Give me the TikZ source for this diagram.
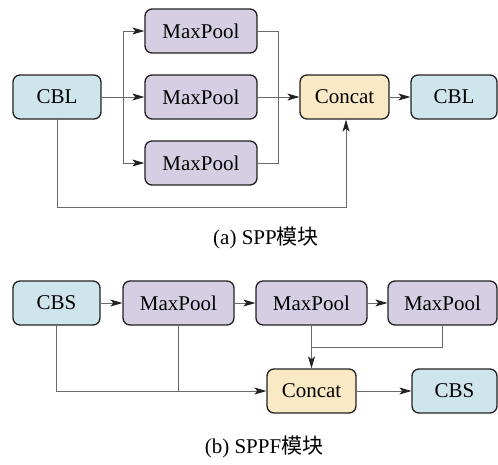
\documentclass[tikz,border=0pt]{standalone}
\usepackage{fontspec}
\setmainfont{Liberation Serif}
\newfontfamily\cjk{Noto Sans CJK SC}
\usetikzlibrary{arrows.meta}

\definecolor{cblue}{HTML}{CFE5EC}
\definecolor{cpool}{HTML}{D6CFE3}
\definecolor{ccat}{HTML}{F9E9C4}
\definecolor{edge}{HTML}{222222}
\definecolor{wire}{HTML}{6A6A6A}

\tikzset{
  block/.style={draw=edge, line width=1.3pt, rounded corners=7pt,
    minimum height=44pt, inner sep=0pt, font=\fontsize{21}{25}\selectfont},
  convbox/.style={block, fill=cblue},
  poolbox/.style={block, fill=cpool, minimum width=111pt},
  catbox/.style={block, fill=ccat, minimum width=89pt},
  wireline/.style={draw=wire, line width=0.8pt},
  flow/.style={wireline, -{Stealth[length=12pt,width=7pt,inset=3pt,color=edge]}},
  caption/.style={font=\fontsize{21}{25}\selectfont, inner sep=0pt}
}

\begin{document}
\begin{tikzpicture}[x=1pt,y=-1pt]
\useasboundingbox (0,0) rectangle (498,464);

% ---- (a) SPP ----
\node[convbox, minimum width=88pt] (cbl1) at (57,97) {CBL};
\node[poolbox, minimum width=112pt] (mp1) at (201,31) {MaxPool};
\node[poolbox, minimum width=112pt] (mp2) at (201,97) {MaxPool};
\node[poolbox, minimum width=112pt] (mp3) at (201,163) {MaxPool};
\node[catbox] (cat1) at (344.5,97) {Concat};
\node[convbox, minimum width=86pt] (cbl2) at (454,97) {CBL};

\coordinate (split) at (123,97);
\coordinate (mergetop) at (278,31);
\coordinate (mergebot) at (278,163);
\coordinate (loop) at (57,207);

\draw[flow] (cbl1.east) -- (mp2.west);
\draw[flow] (split) |- (mp1.west);
\draw[flow] (split) |- (mp3.west);
\draw[wireline] (mp1.east) -- (mergetop) -- (mergebot) -- (mp3.east);
\draw[flow] (mp2.east) -- (cat1.west);
\draw[flow] (cbl1.south) -- (loop) -| ([xshift=1.5pt]cat1.south);
\draw[flow] (cat1.east) -- (cbl2.west);

\node[caption] (capa) at (266,238) {(a) SPP{\cjk 模块}};

% ---- (b) SPPF ----
\node[convbox, minimum width=87pt] (cbs1) at (56.5,303) {CBS};
\node[poolbox] (mpa) at (178.5,303) {MaxPool};
\node[poolbox] (mpb) at (311.5,303) {MaxPool};
\node[poolbox, minimum width=109pt] (mpc) at (442.5,303) {MaxPool};
\node[catbox] (cat2) at (311.5,391) {Concat};
\node[convbox, minimum width=85pt] (cbs2) at (454.5,391) {CBS};

\coordinate (join) at (311.5,347);

\draw[flow] (cbs1.east) -- (mpa.west);
\draw[flow] (mpa.east) -- (mpb.west);
\draw[flow] (mpb.east) -- (mpc.west);
\draw[flow] (cbs1.south) |- (cat2.west);
\draw[wireline] (mpa.south) -- (mpa.south |- cat2.west);
\draw[flow] (mpb.south) -- (cat2.north);
\draw[wireline] (mpc.south) |- (join);
\draw[flow] (cat2.east) -- (cbs2.west);

\node[caption] (capb) at (264,447) {(b) SPPF{\cjk 模块}};
\end{tikzpicture}
\end{document}
